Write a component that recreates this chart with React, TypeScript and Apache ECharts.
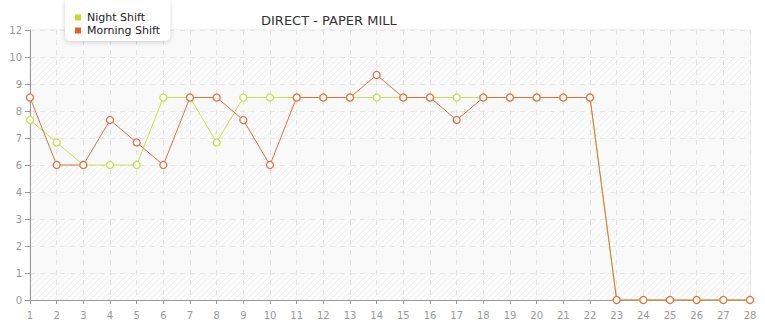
import React, { useEffect, useRef } from "react";
import * as echarts from "echarts";

const categories = Array.from({ length: 28 }, (_, i) => String(i + 1));
const nightShift = [8, 7, 6, 6, 6, 9, 9, 7, 9, 9, 9, 9, 9, 9, 9, 9, 9, 9, 9, 9, 9, 9, 0, 0, 0, 0, 0, 0];
const morningShift = [9, 6, 6, 8, 7, 6, 9, 9, 8, 6, 9, 9, 9, 10, 9, 9, 8, 9, 9, 9, 9, 9, 0, 0, 0, 0, 0, 0];
const titleText = "DIRECT - PAPER MILL";
const seriesNames = ["Night Shift", "Morning Shift"];
const colors = ["#c9e04b", "#e3703f"];
const legendColors = ["#c2dd2a", "#e0622a"];

function makeHatch(): HTMLCanvasElement {
  const c = document.createElement("canvas");
  c.width = 6;
  c.height = 6;
  const ctx = c.getContext("2d")!;
  ctx.fillStyle = "#fbfbfb";
  ctx.fillRect(0, 0, 6, 6);
  ctx.strokeStyle = "#eeeeee";
  ctx.lineWidth = 1;
  ctx.beginPath();
  ctx.moveTo(-1, 7);
  ctx.lineTo(7, -1);
  ctx.moveTo(-1, 1);
  ctx.lineTo(1, -1);
  ctx.moveTo(5, 7);
  ctx.lineTo(7, 5);
  ctx.stroke();
  return c;
}

export default function App() {
  const ref = useRef<HTMLDivElement>(null);
  useEffect(() => {
    if (!ref.current) return;
    const chart = echarts.init(ref.current, undefined, { renderer: "svg" });
    const hatch = makeHatch();
    const font = "DejaVu Sans";
    chart.setOption({
      animation: false,
      backgroundColor: "#ffffff",
      title: {
        text: titleText,
        left: 256,
        top: 9,
        textStyle: { fontFamily: font, fontSize: 13, fontWeight: "normal", color: "#333" },
      },
      legend: {
        orient: "vertical",
        left: 65,
        top: -2,
        padding: [14, 10, 5, 10],
        itemGap: 2,
        itemWidth: 6,
        itemHeight: 6,
        icon: "rect",
        backgroundColor: "#ffffff",
        borderRadius: 5,
        shadowBlur: 5,
        shadowColor: "rgba(0,0,0,0.18)",
        shadowOffsetY: 1,
        textStyle: { fontFamily: font, fontSize: 11, color: "#222", padding: [0, 0, 0, 1] },
        data: [
          { name: seriesNames[0], itemStyle: { color: legendColors[0], borderWidth: 0 } },
          { name: seriesNames[1], itemStyle: { color: legendColors[1], borderWidth: 0 } },
        ],
      },
      grid: {
        left: 30,
        right: 15,
        top: 30,
        bottom: 15,
        show: true,
        borderColor: "#e4e4e4",
        borderWidth: 1,
        backgroundColor: "transparent",
      },
      xAxis: {
        type: "category",
        data: categories,
        boundaryGap: false,
        axisLine: { lineStyle: { color: "#999", width: 1 } },
        axisTick: { show: true, length: 4, lineStyle: { color: "#999" } },
        axisLabel: { fontFamily: font, fontSize: 10, color: "#999", margin: 10 },
        splitLine: { show: true, lineStyle: { color: "#e2e2e2", type: [5, 5] } },
      },
      yAxis: {
        type: "value",
        min: 0,
        max: 12,
        interval: 1.2,
        axisLine: { show: true, lineStyle: { color: "#999", width: 1 } },
        axisTick: { show: true, length: 5, lineStyle: { color: "#999" } },
        axisLabel: {
          fontFamily: font,
          fontSize: 10,
          color: "#999",
          margin: 8,
          formatter: (v: number) => String(Math.floor(v + 1e-9)),
        },
        splitLine: { show: true, lineStyle: { color: "#e6e6e6", type: [5, 5] } },
        splitArea: {
          show: true,
          areaStyle: { color: [{ image: hatch, repeat: "repeat" }, "#f9f9f9"] },
        },
      },
      series: [
        {
          name: seriesNames[0],
          type: "line",
          data: nightShift,
          color: colors[0],
          symbol: "circle",
          symbolSize: 7,
          showAllSymbol: true,
          lineStyle: { width: 1, color: colors[0] },
          itemStyle: { color: "#ffffff", borderColor: colors[0], borderWidth: 1.3 },
        },
        {
          name: seriesNames[1],
          type: "line",
          data: morningShift,
          color: colors[1],
          symbol: "circle",
          symbolSize: 7,
          showAllSymbol: true,
          lineStyle: { width: 1, color: colors[1] },
          itemStyle: { color: "#ffffff", borderColor: colors[1], borderWidth: 1.3 },
        },
      ],
    });
    return () => chart.dispose();
  }, []);
  return <div ref={ref} style={{ width: 765, height: 320, position: "absolute", left: 0, top: 0 }} />;
}
